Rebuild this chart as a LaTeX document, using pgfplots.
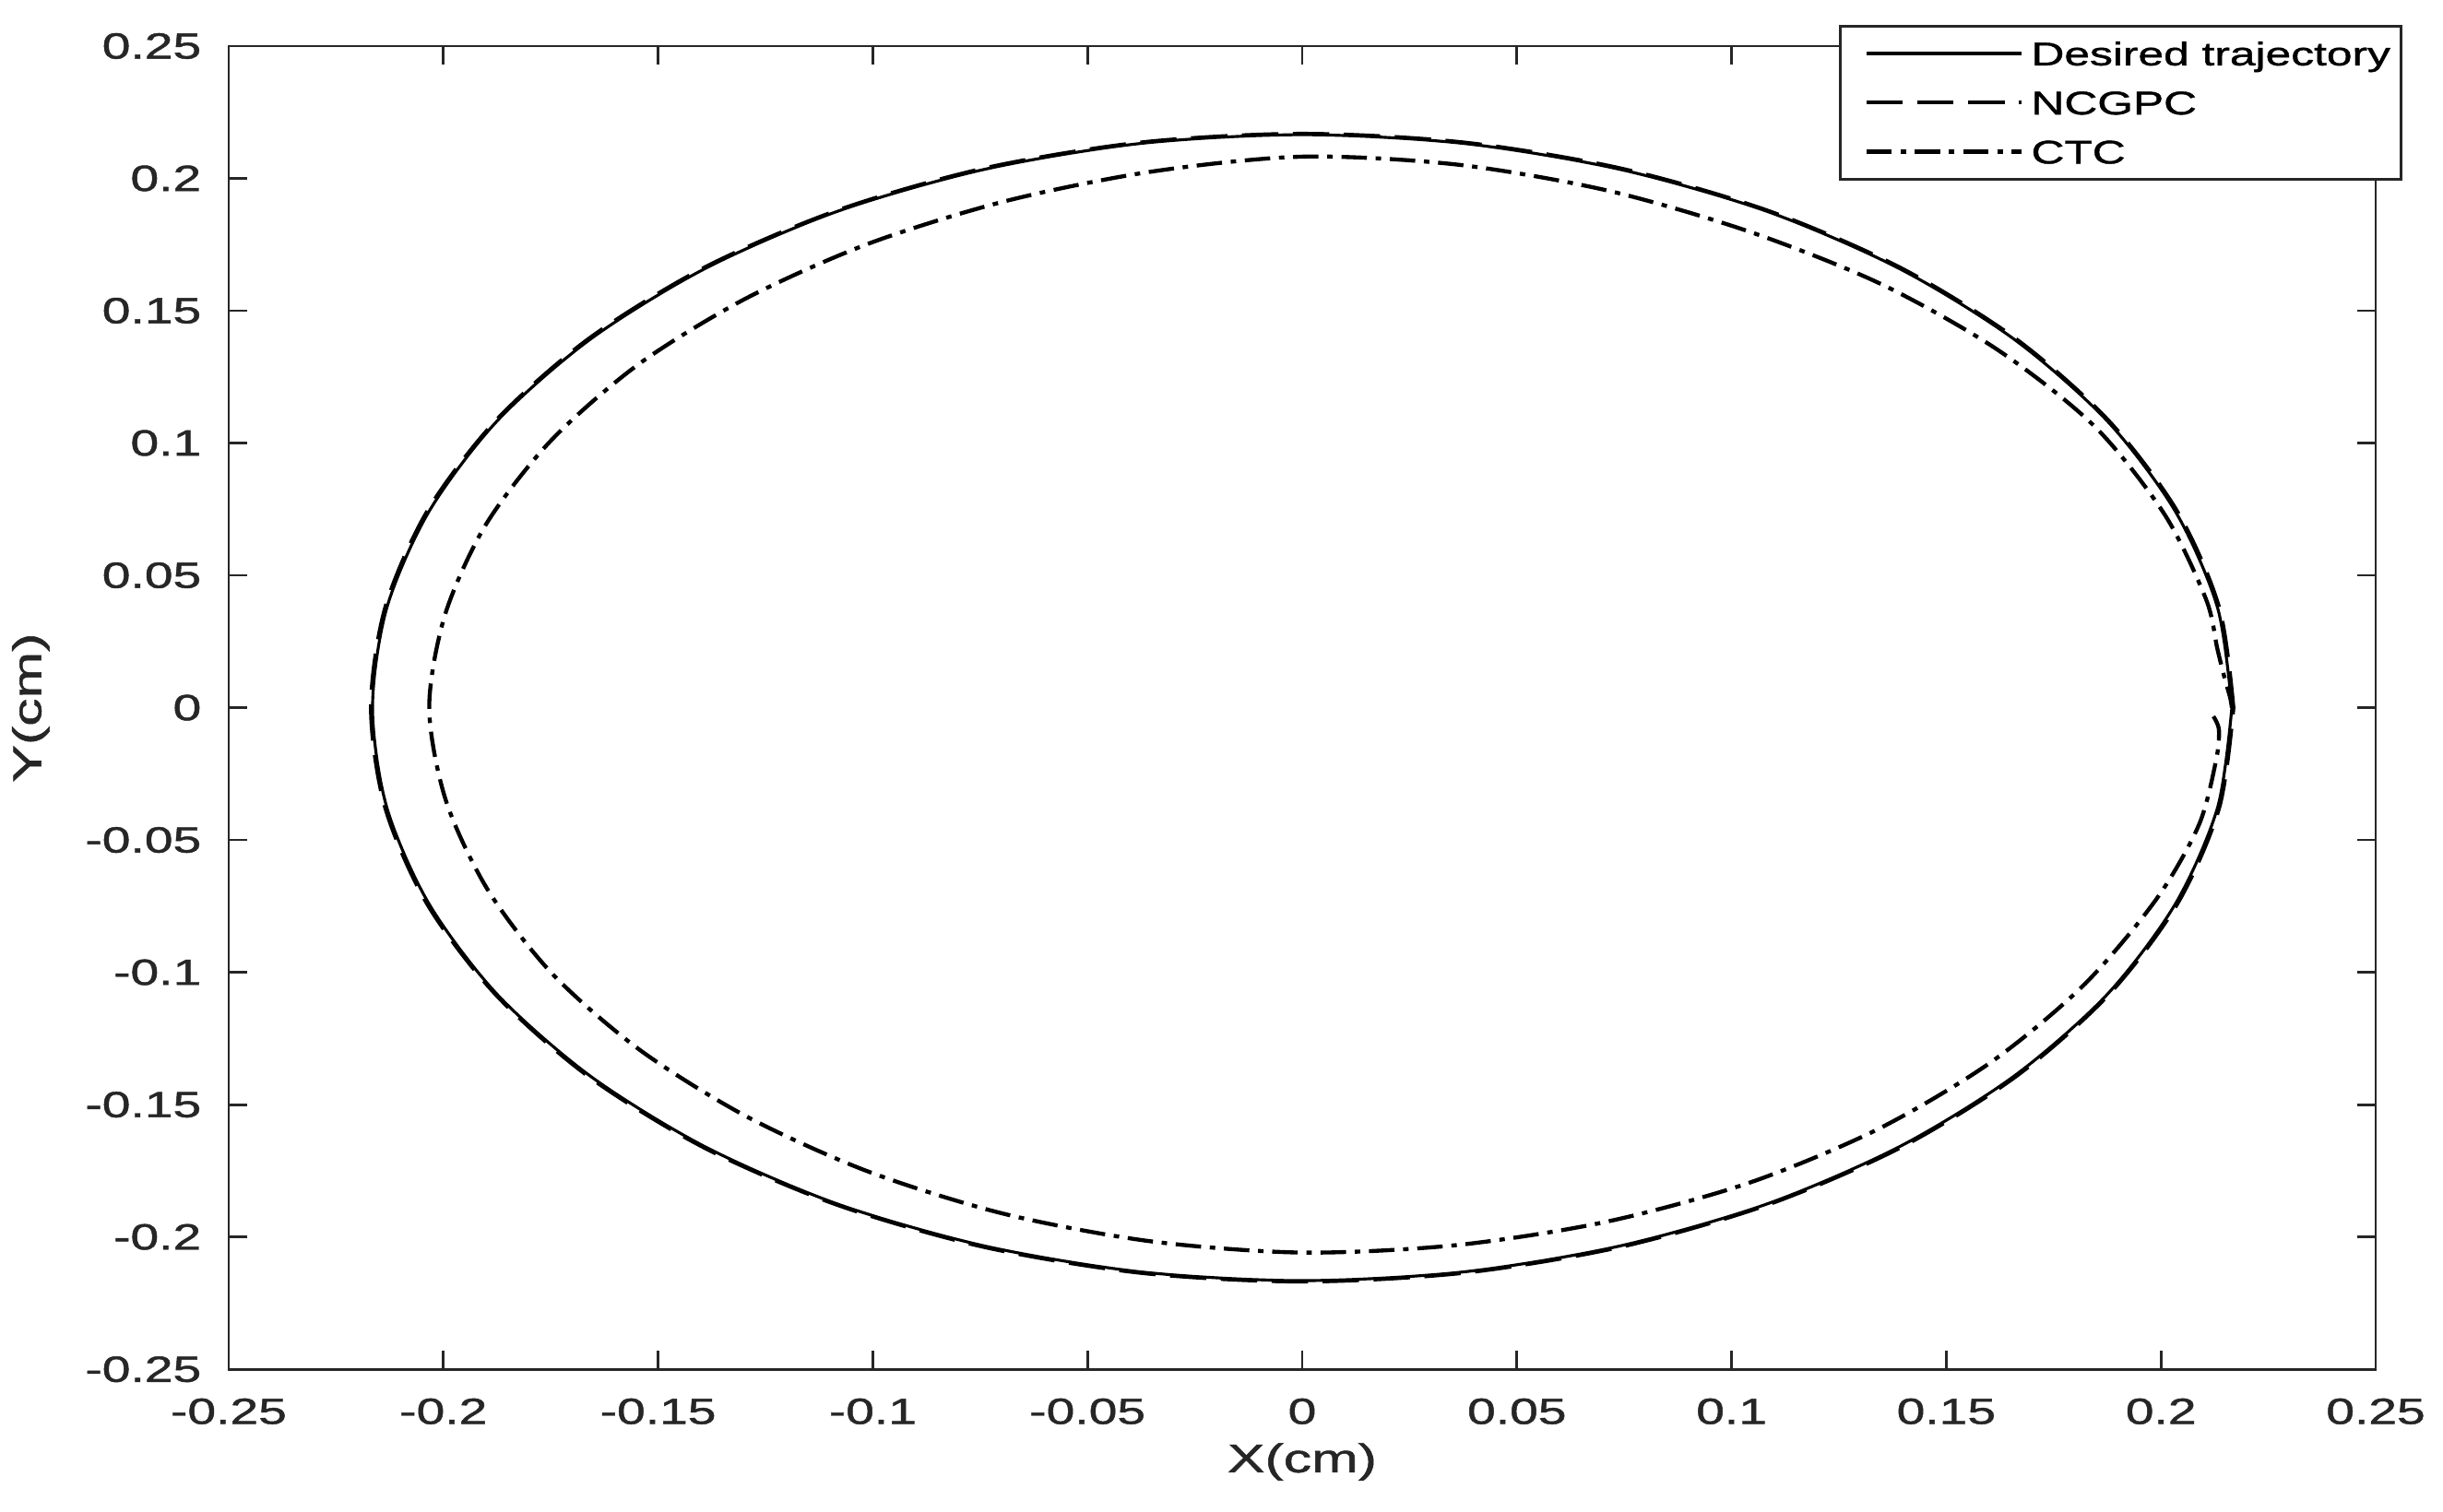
\documentclass[border=0pt]{standalone}
\usepackage{fontspec}
\setmainfont[FakeStretch=1.4, FakeBold=1.2]{Liberation Sans}
\usepackage{pgfplots}
\pgfplotsset{compat=1.18}
\definecolor{axgray}{HTML}{262626}

\begin{document}
\begin{tikzpicture}
\begin{axis}[
  scale only axis, width=590.1pt, height=363.8pt,
  xmin=-0.25, xmax=0.25, ymin=-0.25, ymax=0.25,
  xtick={-0.25,-0.2,-0.15,-0.1,-0.05,0,0.05,0.1,0.15,0.2,0.25},
  xticklabels={-0.25,-0.2,-0.15,-0.1,-0.05,0,0.05,0.1,0.15,0.2,0.25},
  ytick={-0.25,-0.2,-0.15,-0.1,-0.05,0,0.05,0.1,0.15,0.2,0.25},
  yticklabels={-0.25,-0.2,-0.15,-0.1,-0.05,0,0.05,0.1,0.15,0.2,0.25},
  tick align=inside,
  major tick length=5pt,
  axis line style={axgray, line width=0.7pt},
  every tick/.style={axgray, line width=0.7pt},
  tick label style={font=\fontsize{10}{12}\selectfont, text=axgray},
  xticklabel style={yshift=-4.5pt},
  yticklabel style={xshift=-4pt},
  xlabel={X(cm)}, ylabel={Y(cm)},
  label style={font=\fontsize{11}{13}\selectfont, text=axgray},
  xlabel style={at={(rel axis cs:0.5,-0.070)}, anchor=center},
  ylabel style={at={(rel axis cs:-0.0922,0.5)}, anchor=center},
  legend style={at={(0.750,1.0161)}, anchor=north west, draw=axgray, line width=0.7pt,
    fill=white, font=\fontsize{9}{11}\selectfont, inner xsep=1pt, inner ysep=0.8pt,
    nodes={inner sep=2pt, text depth=0.15em, text height=0.8em}},
  legend cell align=left,
  legend image code/.code={\path (0pt,0pt); \draw[#1] (5.6pt,0pt) -- (48.4pt,0pt);},
]
\addplot[black, line width=0.8pt, smooth] coordinates {
(0.2165,0) (0.2132,0.0376) (0.2034,0.0740) (0.1875,0.1083) (0.1658,0.1392) (0.1392,0.1658)
(0.1083,0.1875) (0.0740,0.2034) (0.0376,0.2132) (0,0.2165) (-0.0376,0.2132) (-0.0740,0.2034)
(-0.1083,0.1875) (-0.1392,0.1658) (-0.1658,0.1392) (-0.1875,0.1083) (-0.2034,0.0740) (-0.2132,0.0376)
(-0.2165,0) (-0.2132,-0.0376) (-0.2034,-0.0740) (-0.1875,-0.1083) (-0.1658,-0.1392) (-0.1392,-0.1658)
(-0.1083,-0.1875) (-0.0740,-0.2034) (-0.0376,-0.2132) (0,-0.2165) (0.0376,-0.2132) (0.0740,-0.2034)
(0.1083,-0.1875) (0.1392,-0.1658) (0.1658,-0.1392) (0.1875,-0.1083) (0.2034,-0.0740) (0.2132,-0.0376)
(0.2165,0)
};
\addlegendentry{Desired trajectory}
\addplot[black, line width=1.0pt, smooth, dash pattern=on 10pt off 4pt] coordinates {
(0.2169,0) (0.2136,0.0377) (0.2038,0.0742) (0.1878,0.1085) (0.1662,0.1394) (0.1394,0.1662)
(0.1085,0.1878) (0.0742,0.2038) (0.0377,0.2136) (0,0.2169) (-0.0377,0.2136) (-0.0742,0.2038)
(-0.1085,0.1878) (-0.1394,0.1662) (-0.1662,0.1394) (-0.1878,0.1085) (-0.2038,0.0742) (-0.2136,0.0377)
(-0.2169,0) (-0.2136,-0.0377) (-0.2038,-0.0742) (-0.1878,-0.1085) (-0.1662,-0.1394) (-0.1394,-0.1662)
(-0.1085,-0.1878) (-0.0742,-0.2038) (-0.0377,-0.2136) (0,-0.2169) (0.0377,-0.2136) (0.0742,-0.2038)
(0.1085,-0.1878) (0.1394,-0.1662) (0.1662,-0.1394) (0.1878,-0.1085) (0.2038,-0.0742) (0.2136,-0.0377)
(0.2169,0)
};
\addlegendentry{NCGPC}
\addplot[black, line width=1.1pt, smooth, dash pattern=on 7pt off 2.4pt on 1.5pt off 2.4pt] coordinates {
(0.2122,-0.0033) (0.2135,-0.0085) (0.2128,-0.0201) (0.2088,-0.0444) (0.1989,-0.0724)
(0.1819,-0.1050) (0.1601,-0.1343) (0.1338,-0.1595) (0.1038,-0.1797) (0.0707,-0.1943)
(0.0358,-0.2031) (0.0000,-0.2059) (-0.0355,-0.2016) (-0.0696,-0.1912) (-0.1012,-0.1752)
(-0.1295,-0.1544) (-0.1542,-0.1294) (-0.1745,-0.1008) (-0.1896,-0.0690) (-0.1994,-0.0352)
(-0.2033,0.0000) (-0.1996,0.0352) (-0.1901,0.0692) (-0.1749,0.1010) (-0.1546,0.1297)
(-0.1297,0.1545) (-0.1012,0.1752) (-0.0696,0.1912) (-0.0357,0.2024) (0.0000,0.2082)
(0.0361,0.2052) (0.0711,0.1954) (0.1039,0.1800) (0.1345,0.1603) (0.1616,0.1356)
(0.1844,0.1065) (0.2008,0.0731) (0.2105,0.0409) (0.2131,0.0224) (0.2148,0.0113)
(0.2161,0.0038) (0.2165,0.0000)
};
\addlegendentry{CTC}
\end{axis}
\path ([shift={(-62pt,-39pt)}]current axis.south west) rectangle ([shift={(18.5pt,12.66pt)}]current axis.north east);
\end{tikzpicture}
\end{document}
